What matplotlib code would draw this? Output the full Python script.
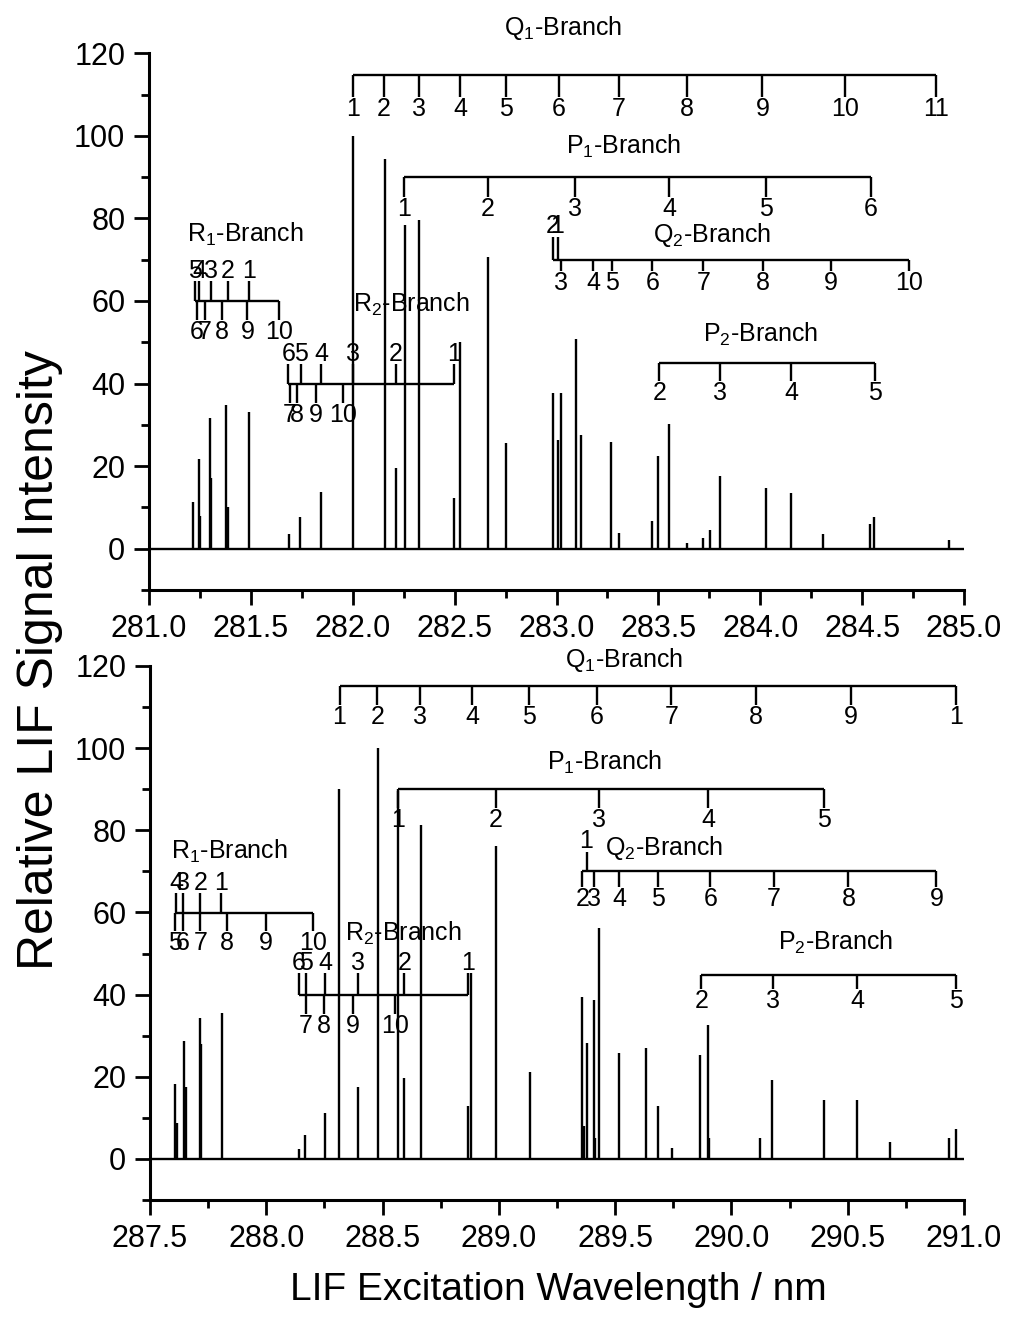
import matplotlib
matplotlib.use('Agg')
import matplotlib.pyplot as plt
from matplotlib.ticker import MultipleLocator, FormatStrFormatter

plt.rcParams['font.family'] = ['Liberation Sans', 'DejaVu Sans']
plt.rcParams['mathtext.default'] = 'regular'

# ---- upper scan, 281-285 nm: line positions (nm) and relative intensities
A_PEAK_NM = [281.218, 281.244, 281.250, 281.300, 281.305, 281.380, 281.386, 281.490,
             281.688, 281.743, 281.845, 282.000, 282.156, 282.213, 282.257, 282.325,
             282.495, 282.524, 282.663, 282.752, 282.983, 283.005, 283.020, 283.097,
             283.118, 283.266, 283.308, 283.469, 283.500, 283.551, 283.639, 283.718,
             283.755, 283.800, 284.029, 284.150, 284.310, 284.540, 284.557, 284.928]
A_PEAK_I = [11.3, 21.6, 8.0, 31.6, 17.0, 34.8, 10.0, 33.2,
            3.6, 7.6, 13.7, 100.0, 94.3, 19.6, 78.5, 79.7,
            12.2, 50.1, 70.6, 25.5, 37.6, 26.3, 37.6, 50.7,
            27.6, 25.8, 3.8, 6.8, 22.5, 30.3, 1.4, 2.6,
            4.4, 17.7, 14.7, 13.5, 3.6, 5.9, 7.6, 2.2]

# rotational assignments (nm, J)
A_Q1_NM = [282.000, 282.154, 282.327, 282.527, 282.753, 283.011, 283.307, 283.640,
           284.010, 284.417, 284.864]
A_Q1_J = ['1', '2', '3', '4', '5', '6', '7', '8', '9', '10', '11']
A_P1_NM = [282.252, 282.662, 283.093, 283.552, 284.030, 284.541]
A_P1_J = ['1', '2', '3', '4', '5', '6']
A_Q2_UP_NM = [282.983, 283.005]
A_Q2_UP_J = ['2', '1']
A_Q2_NM = [283.022, 283.179, 283.273, 283.471, 283.720, 284.012, 284.348, 284.729]
A_Q2_J = ['3', '4', '5', '6', '7', '8', '9', '10']
A_P2_NM = [283.505, 283.801, 284.153, 284.562]
A_P2_J = ['2', '3', '4', '5']
A_R1_UP_NM = [281.226, 281.247, 281.305, 281.387, 281.493]
A_R1_UP_J = ['5', '4', '3', '2', '1']
A_R1_NM = [281.234, 281.275, 281.357, 281.483, 281.640]
A_R1_J = ['6', '7', '8', '9', '10']
A_R2_UP_NM = [281.684, 281.745, 281.845, 281.999, 282.213, 282.495]
A_R2_UP_J = ['6', '5', '4', '3', '2', '1']
A_R2_NM = [281.693, 281.725, 281.820, 281.954]
A_R2_J = ['7', '8', '9', '10']

# ---- lower scan, 287.5-291 nm
B_PEAK_NM = [287.6075, 287.617, 287.648, 287.655, 287.716, 287.720, 287.808, 288.141,
             288.168, 288.253, 288.314, 288.393, 288.479, 288.568, 288.594, 288.666,
             288.869, 288.881, 288.987, 289.134, 289.357, 289.366, 289.377, 289.407,
             289.413, 289.431, 289.516, 289.632, 289.684, 289.744, 289.866, 289.899,
             289.905, 290.122, 290.175, 290.397, 290.539, 290.681, 290.935, 290.964]
B_PEAK_I = [18.2, 8.7, 28.7, 17.4, 34.3, 28.0, 35.6, 2.4,
            5.8, 11.3, 90.0, 17.4, 100.0, 89.5, 19.6, 81.4,
            13.0, 45.2, 76.2, 21.1, 39.4, 8.0, 28.3, 38.7,
            5.0, 56.2, 25.8, 27.1, 12.8, 2.6, 25.2, 32.6,
            5.0, 5.2, 19.3, 14.4, 14.4, 4.1, 5.2, 7.4]

B_Q1_NM = [288.315, 288.478, 288.662, 288.884, 289.131, 289.420, 289.742, 290.107,
           290.513, 290.965]
B_Q1_J = ['1', '2', '3', '4', '5', '6', '7', '8', '9', '1']
B_P1_NM = [288.568, 288.987, 289.431, 289.899, 290.399]
B_P1_J = ['1', '2', '3', '4', '5']
B_Q2_UP_NM = [289.377]
B_Q2_UP_J = ['1']
B_Q2_NM = [289.359, 289.407, 289.517, 289.686, 289.909, 290.181, 290.503, 290.881]
B_Q2_J = ['2', '3', '4', '5', '6', '7', '8', '9']
B_P2_NM = [289.870, 290.177, 290.540, 290.967]
B_P2_J = ['2', '3', '4', '5']
B_R1_UP_NM = [287.612, 287.643, 287.716, 287.805]
B_R1_UP_J = ['4', '3', '2', '1']
B_R1_NM = [287.6075, 287.641, 287.716, 287.832, 287.998, 288.202]
B_R1_J = ['5', '6', '7', '8', '9', '10']
B_R2_UP_NM = [288.141, 288.170, 288.253, 288.393, 288.594, 288.869]
B_R2_UP_J = ['6', '5', '4', '3', '2', '1']
B_R2_NM = [288.170, 288.248, 288.374, 288.554]
B_R2_J = ['7', '8', '9', '10']

LW = 1.7
NUM_FS = 18
NAME_FS = 18


def branch(ax, y, up_x, up_j, down_x, down_j, up_len=4.7, down_len=4.7):
    """Bracket with upward/downward ticks and J labels."""
    xs = list(up_x) + list(down_x)
    ax.plot([min(xs), max(xs)], [y, y], color='k', lw=LW, solid_capstyle='butt')
    if up_x:
        ax.vlines(up_x, y, y + up_len, color='k', lw=LW)
    if down_x:
        ax.vlines(down_x, y - down_len, y, color='k', lw=LW)
    for x, j in zip(up_x, up_j):
        ax.annotate(j, (x, y + up_len), xytext=(0, -1), textcoords='offset points',
                    ha='center', va='bottom', fontsize=NUM_FS, annotation_clip=False)
    for x, j in zip(down_x, down_j):
        ax.annotate(j, (x, y - down_len), xytext=(0, 0), textcoords='offset points',
                    ha='center', va='top', fontsize=NUM_FS, annotation_clip=False)


def name(ax, x, y, s):
    ax.text(x, y, s, ha='center', va='baseline', fontsize=NAME_FS, clip_on=False)


def setup(ax, x0, x1):
    ax.set_xlim(x0, x1)
    ax.set_ylim(-10, 120)
    ax.xaxis.set_major_locator(MultipleLocator(0.5))
    ax.xaxis.set_minor_locator(MultipleLocator(0.25))
    ax.yaxis.set_major_locator(MultipleLocator(20))
    ax.yaxis.set_minor_locator(MultipleLocator(10))
    ax.xaxis.set_major_formatter(FormatStrFormatter('%.1f'))
    for s in ['top', 'right']:
        ax.spines[s].set_visible(False)
    for s in ['left', 'bottom']:
        ax.spines[s].set_linewidth(2.2)
    ax.tick_params(which='major', direction='out', length=11, width=2,
                   labelsize=22, pad=6)
    ax.tick_params(which='minor', direction='out', length=6, width=2)
    ax.hlines(0, x0, x1, color='k', lw=LW)


fig = plt.figure(figsize=(10.10, 13.18), dpi=100)
ax1 = fig.add_axes([0.1475, 0.5524, 0.807, 0.4072])
ax2 = fig.add_axes([0.1485, 0.0895, 0.806, 0.4052])

# upper panel
setup(ax1, 281.0, 285.0)
ax1.vlines(A_PEAK_NM, 0, A_PEAK_I, color='k', lw=LW)
branch(ax1, 114.7, [], [], A_Q1_NM, A_Q1_J, down_len=5.2)
branch(ax1, 90.0, [], [], A_P1_NM, A_P1_J, down_len=4.8)
branch(ax1, 70.0, A_Q2_UP_NM, A_Q2_UP_J, A_Q2_NM, A_Q2_J, up_len=5.5, down_len=2.8)
branch(ax1, 44.9, [], [], A_P2_NM, A_P2_J, down_len=4.3)
branch(ax1, 60.1, A_R1_UP_NM, A_R1_UP_J, A_R1_NM, A_R1_J)
branch(ax1, 40.0, A_R2_UP_NM, A_R2_UP_J, A_R2_NM, A_R2_J)
name(ax1, 283.03, 124.3, 'Q$_1$-Branch')
name(ax1, 283.33, 95.7, 'P$_1$-Branch')
name(ax1, 283.764, 74.3, 'Q$_2$-Branch')
name(ax1, 284.003, 50.1, 'P$_2$-Branch')
name(ax1, 281.475, 74.3, 'R$_1$-Branch')
name(ax1, 282.29, 57.4, 'R$_2$-Branch')

# lower panel
setup(ax2, 287.5, 291.0)
ax2.vlines(B_PEAK_NM, 0, B_PEAK_I, color='k', lw=LW)
branch(ax2, 115.1, [], [], B_Q1_NM, B_Q1_J, down_len=4.6)
branch(ax2, 89.95, [], [], B_P1_NM, B_P1_J, down_len=4.4)
branch(ax2, 70.0, B_Q2_UP_NM, B_Q2_UP_J, B_Q2_NM, B_Q2_J, up_len=4.7, down_len=3.9)
branch(ax2, 44.9, [], [], B_P2_NM, B_P2_J, down_len=3.6)
branch(ax2, 59.8, B_R1_UP_NM, B_R1_UP_J, B_R1_NM, B_R1_J, up_len=4.9, down_len=4.2)
branch(ax2, 40.0, B_R2_UP_NM, B_R2_UP_J, B_R2_NM, B_R2_J, up_len=5.2, down_len=4.6)
name(ax2, 289.54, 119.8, 'Q$_1$-Branch')
name(ax2, 289.453, 94.7, 'P$_1$-Branch')
name(ax2, 289.711, 74.1, 'Q$_2$-Branch')
name(ax2, 290.45, 50.9, 'P$_2$-Branch')
name(ax2, 287.84, 73.0, 'R$_1$-Branch')
name(ax2, 288.588, 53.0, 'R$_2$-Branch')

fig.text(0.0396, 0.4992, 'Relative LIF Signal Intensity', rotation=90,
         ha='center', va='center', fontsize=36)
fig.text(0.553, 0.0212, 'LIF Excitation Wavelength / nm',
         ha='center', va='center', fontsize=28)

fig.savefig('out.png', dpi=100)
